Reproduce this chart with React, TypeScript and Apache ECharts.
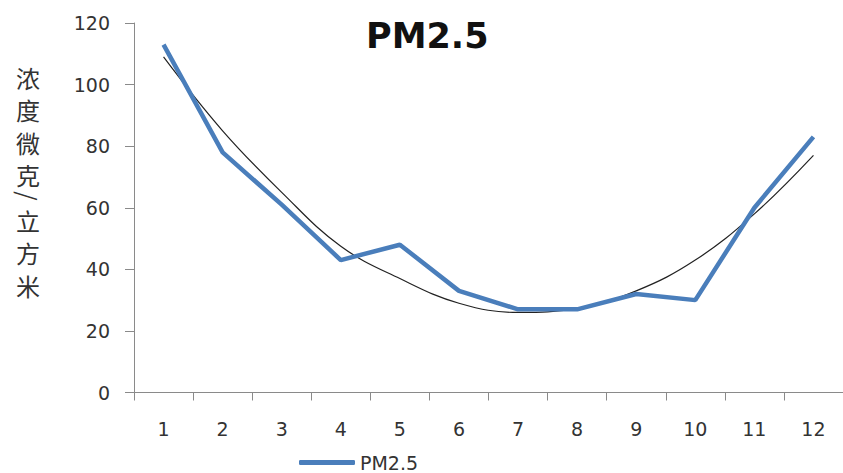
import React, { useEffect, useRef } from "react";
import * as echarts from "echarts";

const categories = ["1", "2", "3", "4", "5", "6", "7", "8", "9", "10", "11", "12"];
const pm25 = [113, 78, 61, 43, 48, 33, 27, 27, 32, 30, 60, 83];
const trend = [109, 85, 65, 47.5, 37, 29, 26, 27.3, 33, 43, 58, 77];
const yTicks = { min: 0, max: 120, interval: 20 };
const titleText = "PM2.5";
const seriesName = "PM2.5";
const yAxisNameTop = ["浓", "度", "微", "克"];
const yAxisNameSlash = "/";
const yAxisNameBottom = ["立", "方", "米"];

export default function App() {
  const ref = useRef<HTMLDivElement>(null);
  useEffect(() => {
    if (!ref.current) return;
    const chart = echarts.init(ref.current, undefined, { renderer: "svg" });
    const axisColor = "#8a8a8a";
    const labelFont = "DejaVu Sans";
    const cjkStyle = {
      fontFamily: "Noto Sans CJK SC",
      fontSize: 24,
      lineHeight: 32.5,
      fill: "#333",
      textAlign: "center",
      textVerticalAlign: "top",
    };
    chart.setOption({
      animation: false,
      backgroundColor: "#ffffff",
      title: {
        text: titleText,
        left: 361,
        top: 13,
        textStyle: { fontFamily: labelFont, fontWeight: "bold", fontSize: 35, color: "#111" },
      },
      legend: {
        data: [seriesName],
        left: 299,
        top: 453,
        padding: 0,
        icon: "roundRect",
        itemWidth: 56,
        itemHeight: 5,
        textStyle: { fontFamily: labelFont, fontSize: 19, color: "#333" },
      },
      grid: { left: 134, top: 23, width: 717, height: 369.5, containLabel: false },
      xAxis: {
        type: "category",
        data: categories,
        boundaryGap: true,
        axisLine: { show: true, lineStyle: { color: axisColor, width: 1 } },
        axisTick: { show: true, length: 8, alignWithLabel: false, lineStyle: { color: axisColor } },
        axisLabel: { interval: 0, margin: 27, fontFamily: labelFont, fontSize: 19, color: "#333" },
        splitLine: { show: false },
      },
      yAxis: {
        type: "value",
        min: yTicks.min,
        max: yTicks.max,
        interval: yTicks.interval,
        axisLine: { show: true, lineStyle: { color: axisColor, width: 1 } },
        axisTick: { show: true, length: 9, lineStyle: { color: axisColor } },
        axisLabel: { margin: 24, fontFamily: labelFont, fontSize: 19, color: "#333" },
        splitLine: { show: false },
      },
      graphic: [
        { type: "text", x: 28, y: 61, style: { ...cjkStyle, text: yAxisNameTop.join("\n") } },
        {
          type: "text",
          x: 28,
          y: 196,
          rotation: -Math.PI / 2,
          style: {
            text: yAxisNameSlash,
            fontFamily: "Noto Sans CJK SC",
            fontSize: 24,
            fill: "#333",
            textAlign: "center",
            textVerticalAlign: "middle",
          },
        },
        { type: "text", x: 28, y: 204, style: { ...cjkStyle, text: yAxisNameBottom.join("\n") } },
      ],
      series: [
        {
          name: seriesName,
          type: "line",
          data: pm25,
          symbol: "none",
          lineStyle: { color: "#4a7ebb", width: 4.5 },
          itemStyle: { color: "#4a7ebb" },
          z: 3,
        },
        {
          name: "trend",
          type: "line",
          data: trend,
          symbol: "none",
          smooth: 0.4,
          lineStyle: { color: "#222", width: 1.2 },
          itemStyle: { color: "#222" },
          z: 2,
        },
      ],
    });
    return () => chart.dispose();
  }, []);
  return <div ref={ref} style={{ width: 843, height: 473, position: "absolute", left: 0, top: 0 }} />;
}
